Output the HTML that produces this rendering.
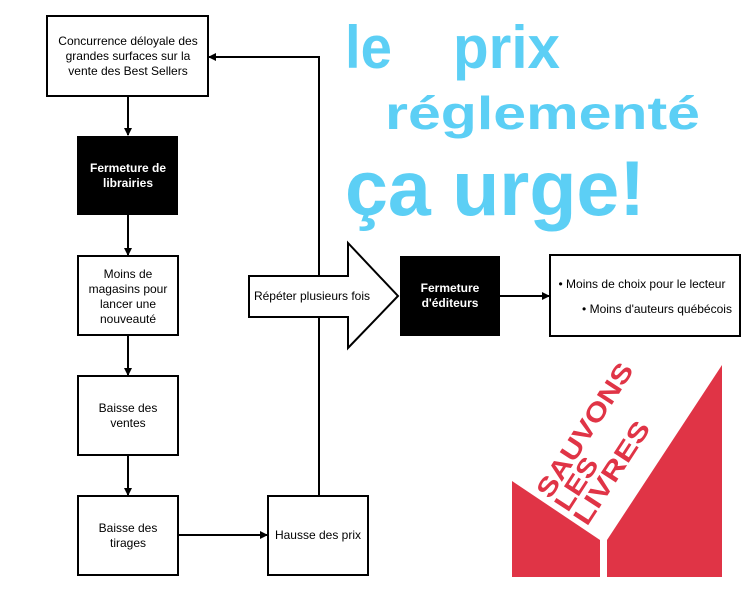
<!DOCTYPE html>
<html><head><meta charset="utf-8"><style>
html,body{margin:0;padding:0;background:#fff;}
svg{display:block;font-family:"Liberation Sans",Arial,sans-serif;}
</style></head><body>
<svg width="753" height="591" viewBox="0 0 753 591" xmlns="http://www.w3.org/2000/svg">
<defs><marker id="a" markerWidth="8" markerHeight="8" refX="7" refY="4" orient="auto" markerUnits="userSpaceOnUse"><path d="M0,0 L8,4 L0,8 z" fill="#000"/></marker></defs>
<g fill="#5ccff5" font-weight="bold">
<text x="345" y="68" font-size="60" textLength="47" lengthAdjust="spacingAndGlyphs">le</text>
<text x="453" y="68" font-size="60" textLength="107" lengthAdjust="spacingAndGlyphs">prix</text>
<text x="385" y="129" font-size="46" textLength="315" lengthAdjust="spacingAndGlyphs">réglementé</text>
<text x="345" y="215" font-size="78" textLength="300" lengthAdjust="spacingAndGlyphs">ça urge!</text>
</g>
<g stroke="#000" stroke-width="2" fill="none">
<line x1="128" y1="96" x2="128" y2="135" marker-end="url(#a)"/>
<line x1="128" y1="215" x2="128" y2="255" marker-end="url(#a)"/>
<line x1="128" y1="335" x2="128" y2="375" marker-end="url(#a)"/>
<line x1="128" y1="455" x2="128" y2="495" marker-end="url(#a)"/>
<line x1="178" y1="535" x2="267" y2="535" marker-end="url(#a)"/>
<polyline points="319,496 319,57 209,57" marker-end="url(#a)"/>
<line x1="500" y1="296" x2="549" y2="296" marker-end="url(#a)"/>
</g>
<g stroke="#000" stroke-width="2" fill="#fff">
<rect x="47" y="16" width="161" height="80"/>
<rect x="78" y="256" width="100" height="79"/>
<rect x="78" y="376" width="100" height="79"/>
<rect x="78" y="496" width="100" height="79"/>
<rect x="268" y="496" width="100" height="79"/>
<rect x="550" y="255" width="190" height="81"/>
<polygon points="249,276 348,276 348,243 398,296 348,348 348,317 249,317"/>
</g>
<rect x="77" y="136" width="101" height="79" fill="#000"/>
<rect x="400" y="256" width="100" height="80" fill="#000"/>
<g font-size="12" text-anchor="middle" fill="#000">
<text x="128" y="45">Concurrence déloyale des</text>
<text x="128" y="60">grandes surfaces sur la</text>
<text x="128" y="75">vente des Best Sellers</text>
<text x="128" y="278">Moins de</text>
<text x="128" y="293">magasins pour</text>
<text x="128" y="308">lancer une</text>
<text x="128" y="323">nouveauté</text>
<text x="128" y="412">Baisse des</text>
<text x="128" y="427">ventes</text>
<text x="128" y="532">Baisse des</text>
<text x="128" y="547">tirages</text>
<text x="318" y="539">Hausse des prix</text>
<text x="312" y="300">Répéter plusieurs fois</text>
<text x="642" y="288">• Moins de choix pour le lecteur</text>
<text x="657" y="313">• Moins d'auteurs québécois</text>
<g fill="#fff" font-weight="bold">
<text x="128" y="172">Fermeture de</text>
<text x="128" y="187">librairies</text>
<text x="450" y="292">Fermeture</text>
<text x="450" y="307">d'éditeurs</text>
</g>
</g>
<g fill="#e03446">
<polygon points="512,481 600,540 600,577 512,577"/>
<polygon points="607,540 722,365 722,577 607,577"/>
<g font-weight="bold" font-size="26">
<text transform="translate(550,500) rotate(-57)" textLength="155" lengthAdjust="spacingAndGlyphs">SAUVONS</text>
<text transform="translate(568,513) rotate(-57)" textLength="58" lengthAdjust="spacingAndGlyphs">LES</text>
<text transform="translate(587,527) rotate(-57)" textLength="118" lengthAdjust="spacingAndGlyphs">LIVRES</text>
</g>
</g>
</svg>
</body></html>
